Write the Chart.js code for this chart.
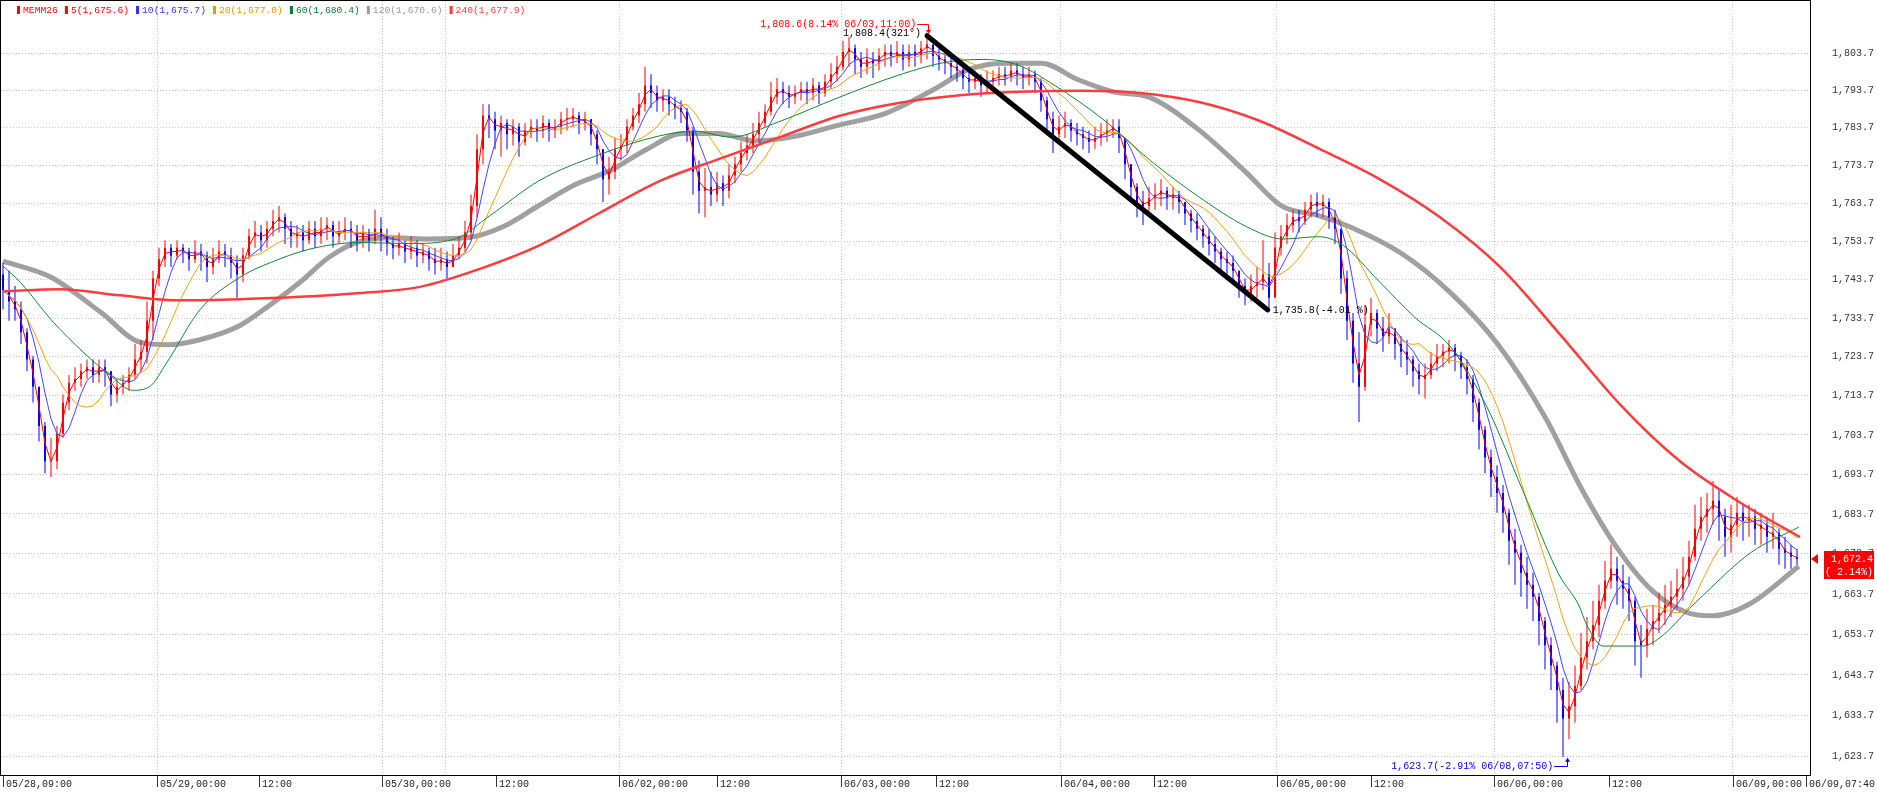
<!DOCTYPE html>
<html><head><meta charset="utf-8">
<script src="https://cdn.jsdelivr.net/npm/chart.js@4/dist/chart.umd.min.js"></script>
<style>html,body{margin:0;padding:0;background:#fff;overflow:hidden}#wrap{width:1877px;height:793px}</style>
</head><body><div id="wrap"><canvas id="c" width="1877" height="793"></canvas></div>
<script>
// ---- data (one bar per slot, index 0..299) ----
const closes=[1741,1738,1736,1730,1723,1716,1706,1697,1697,1704,
1712,1717,1718,1720,1721,1719,1721,1720,1714,1716,
1717,1719,1723,1725,1733,1744,1749,1752,1750,1752,
1751,1749,1751,1750,1747,1749,1751,1750,1748,1745,
1750,1755,1756,1754,1757,1759,1760,1757,1755,1756,
1754,1757,1755,1757,1758,1755,1756,1757,1756,1754,
1756,1754,1757,1755,1753,1752,1753,1751,1752,1750,
1751,1749,1748,1749,1747,1750,1752,1756,1763,1778,
1787,1786,1783,1785,1782,1784,1780,1783,1784,1783,
1785,1783,1784,1786,1786,1787,1785,1786,1782,1778,
1770,1772,1778,1779,1784,1787,1790,1795,1793,1791,
1792,1790,1789,1788,1783,1772,1767,1768,1766,1769,
1767,1771,1774,1777,1779,1782,1785,1788,1792,1794,
1793,1792,1793,1794,1793,1795,1793,1796,1798,1800,
1804,1805,1802,1800,1802,1801,1803,1804,1803,1804,
1802,1804,1803,1805,1806,1803,1802,1801,1800,1799,
1797,1796,1797,1795,1796,1797,1798,1797,1799,1798,
1797,1798,1796,1791,1786,1782,1784,1785,1783,1782,
1781,1780,1781,1782,1783,1784,1781,1774,1768,1764,
1763,1765,1766,1767,1765,1766,1764,1761,1759,1757,
1755,1753,1751,1749,1748,1746,1742,1740,1742,1743,
1745,1739,1752,1755,1758,1760,1759,1762,1764,1763,
1764,1760,1757,1744,1733,1722,1716,1732,1735,1731,
1729,1731,1727,1725,1723,1720,1718,1719,1722,1724,
1725,1726,1724,1721,1718,1712,1705,1698,1693,1689,
1684,1677,1674,1669,1666,1663,1657,1651,1646,1640,
1633,1636,1641,1648,1652,1656,1662,1667,1670,1667,
1665,1662,1652,1651,1655,1657,1659,1661,1663,1665,
1668,1673,1680,1683,1685,1687,1683,1678,1681,1684,
1682,1683,1680,1681,1678,1679,1675,1674,1673,1672.4];
const highs=[1748,1746,1742,1738,1731,1724,1716,1707,1703,1706,
1714,1719,1721,1722,1723,1723,1723,1723,1720,1718,
1719,1721,1727,1728,1738,1746,1752,1754,1753,1754,
1753,1752,1754,1753,1751,1752,1754,1753,1752,1750,
1752,1757,1759,1758,1759,1762,1763,1761,1759,1758,
1758,1759,1759,1760,1760,1759,1759,1760,1759,1758,
1758,1757,1762,1760,1757,1755,1756,1754,1755,1754,
1753,1752,1752,1752,1751,1753,1755,1759,1766,1782,
1790,1790,1788,1787,1786,1786,1785,1785,1786,1786,
1787,1786,1786,1788,1789,1789,1788,1788,1786,1783,
1778,1776,1781,1782,1786,1789,1793,1800,1798,1795,
1794,1794,1792,1791,1789,1784,1775,1773,1772,1772,
1771,1774,1776,1780,1782,1785,1788,1790,1796,1797,
1796,1795,1795,1796,1796,1797,1796,1798,1801,1803,
1807,1808,1806,1804,1805,1804,1805,1806,1806,1807,
1806,1806,1806,1807,1808.6,1806,1805,1804,1803,1802,
1800,1799,1799,1798,1799,1799,1800,1800,1801,1801,
1800,1800,1799,1797,1792,1788,1787,1788,1786,1785,
1784,1783,1784,1785,1786,1786,1786,1781,1774,1769,
1767,1768,1769,1770,1768,1768,1767,1764,1762,1761,
1758,1757,1755,1752,1751,1750,1746,1744,1745,1747,
1754,1748,1756,1758,1761,1762,1762,1764,1766,1766.5,
1766,1765,1762,1757,1746,1735,1730,1737,1739,1736,
1734,1735,1731,1729,1728,1724,1722,1722,1725,1727,
1727,1728,1727,1725,1723,1719,1713,1706,1700,1696,
1691,1685,1680,1676,1673,1669,1664,1658,1653,1647,
1643,1642,1646,1654,1658,1662,1666,1672,1676,1673,
1671,1668,1663,1656,1660,1661,1664,1666,1667,1670,
1673,1677,1686,1688,1689,1692,1690,1685,1686,1688,
1686,1686,1685,1684,1683,1684,1680,1678,1676,1675];
const lows=[1736,1733,1733,1727,1720,1712,1702,1694,1693,1695,
1703,1710,1715,1716,1718,1717,1717,1716,1711,1712,
1714,1715,1718,1720,1722,1728,1742,1747,1747,1749,
1748,1746,1748,1746,1743,1745,1748,1747,1744,1739,
1743,1749,1752,1751,1752,1755,1756,1753,1752,1752,
1751,1753,1752,1753,1754,1752,1753,1754,1752,1751,
1752,1751,1753,1751,1750,1749,1750,1748,1749,1747,
1748,1746,1745,1746,1744,1747,1749,1751,1754,1760,
1774,1781,1778,1776,1778,1779,1776,1779,1781,1780,
1781,1780,1781,1782,1783,1784,1782,1783,1779,1774,
1764,1766,1770,1775,1777,1783,1785,1788,1789,1788,
1788,1787,1786,1785,1780,1766,1761,1760,1763,1764,
1763,1765,1769,1772,1775,1777,1780,1784,1787,1790,
1790,1789,1790,1791,1790,1791,1790,1792,1794,1796,
1799,1800,1798,1797,1798,1797,1799,1800,1800,1801,
1799,1800,1800,1801,1802,1800,1799,1798,1797,1796,
1794,1793,1794,1792,1793,1794,1795,1795,1796,1795,
1794,1795,1793,1788,1783,1777,1780,1781,1780,1779,
1778,1777,1778,1779,1780,1781,1777,1770,1764,1760,
1758,1761,1762,1763,1762,1762,1761,1758,1756,1754,
1752,1750,1748,1746,1745,1743,1739,1737,1738,1739,
1741,1735.8,1740,1750,1753,1756,1756,1758,1760,1760,
1760,1757,1753,1740,1728,1717,1707,1715,1729,1727,
1725,1727,1723,1721,1719,1716,1714,1713,1718,1720,
1721,1722,1720,1718,1714,1707,1700,1694,1688,1684,
1679,1671,1666,1663,1660,1657,1651,1645,1640,1632,
1623.7,1628,1632,1640,1645,1650,1653,1660,1665,1661,
1660,1657,1646,1643,1648,1651,1654,1656,1658,1660,
1662,1666,1672,1677,1679,1681,1677,1673,1674,1678,
1677,1678,1676,1676,1674,1675,1671,1670,1670,1671];
const firstOpen=1745;

// moving averages: [bar index, value]
const ma60Pts=[[0,1747.2],[2.9,1743],[8,1733.3],[13.5,1724.7],[17.9,1718.9],[21.6,1715.1],[24.4,1716],[27.3,1722.2],[32.8,1735.8],[39.5,1744.3],[45.5,1748.7],[51.5,1751.8],[59.5,1753.4],[67.5,1753.1],[75.3,1754.3],[81.3,1760.6],[89.3,1769.6],[99.3,1776.5],[109.3,1781.5],[115.3,1782.8],[121.3,1781.2],[129.3,1785.3],[139.3,1791.8],[149.3,1797.8],[157.3,1801.3],[163.3,1802],[169.3,1800.4],[175.3,1795],[183.3,1786],[191.3,1774.9],[199.3,1765.4],[207.3,1757.5],[213.3,1754.3],[219.3,1754.9],[223.3,1752.7],[229.3,1743.3],[235.3,1733.9],[241.3,1726.2],[247.3,1710.9],[253.3,1689.6],[259.3,1668.6],[262.7,1660.7],[263.9,1656.2],[266.7,1650.8],[273.3,1650.8],[276.1,1652.8],[281.1,1660.1],[283.3,1663.3],[291.3,1674],[299.3,1680.4]];
const ma120Pts=[[0,1748.5],[8,1744.3],[16.3,1735.2],[22.9,1727.4],[27.5,1726.8],[32.8,1728.1],[39.5,1731.8],[44.5,1737.1],[49.5,1743],[54.4,1749.6],[59.5,1753.7],[65.3,1754.6],[71.3,1754.3],[77.3,1754.6],[83.3,1757.5],[89.3,1763.1],[95.3,1768.6],[101.3,1772.4],[107.3,1778],[113.3,1782.2],[119.3,1782.2],[125.3,1780.2],[131.3,1781.2],[139.3,1784.4],[147.2,1787.6],[155.2,1794],[161.1,1799.4],[167.1,1801],[173.1,1801],[179.1,1796.6],[185.1,1793.3],[191.1,1791.8],[199.1,1783.4],[207.1,1772],[213.1,1763],[219.1,1760.5],[225.2,1757],[233.1,1750.5],[241.1,1740.5],[249.1,1727],[257.1,1708],[263.1,1690],[269.1,1675],[275.1,1664.2],[281.1,1658.9],[285.1,1658.3],[291.1,1661.2],[299.3,1670.6]];
const ma240Pts=[[0,1740.6],[9.5,1741.2],[19.5,1739.6],[29.5,1738.3],[39.5,1738.6],[49.5,1739.2],[59.5,1740.2],[69.5,1741.8],[79.5,1746.5],[89.5,1752.7],[99.5,1761.2],[109.5,1769.6],[119.5,1775.5],[129.5,1781.2],[139.5,1786.9],[149.5,1790.4],[159.5,1792.4],[169.5,1793.3],[179.5,1793.6],[189.5,1793],[199.5,1790.5],[209.5,1785.5],[219.5,1778],[229.5,1770],[239.5,1760],[249.5,1747],[259.5,1729.5],[269.5,1711.5],[279.5,1697],[289.5,1686.6],[299.5,1677.9]];

const trendPts=[[154,1808.4],[210.8,1735.8]];
const trendStartText='1,808.4(321°)';
const trendEndText='1,735.8(-4.01 %)';
const maxMark={i:154.2,v:1808.6,text:'1,808.6(8.14% 06/03,11:00)'};
const minMark={i:260.7,v:1623.7,text:'1,623.7(-2.91% 06/08,07:50)'};
const lastPrice=1672.4, lastPctText='( 2.14%)';

const yTickValues=[1623.7,1633.7,1643.7,1653.7,1663.7,1673.7,1683.7,1693.7,1703.7,1713.7,1723.7,1733.7,1743.7,1753.7,1763.7,1773.7,1783.7,1793.7,1803.7];
const xTickPos=[0,25.67,42.67,63.17,73.83,82.17,102.67,119,139.67,155.5,176.33,191.83,212.33,228,248.5,267.67,288.33,300.5];
const xTickLabels=['05/28,09:00','05/29,00:00','12:00','05/30,00:00','','12:00','06/02,00:00','12:00','06/03,00:00','12:00','06/04,00:00','12:00','06/05,00:00','12:00','06/06,00:00','12:00','06/09,00:00','06/09,07:40'];

const legendLabels=['MEMM26','5(1,675.6)','10(1,675.7)','20(1,677.0)','60(1,680.4)','120(1,670.6)','240(1,677.9)'];
const legendColors=['#ff0000','#ff0000','#3333ff','#e69500','#0b7a2b','#9a9a9a','#ff3c3c'];

// ---- build datasets ----
const UP='#ff0000', DOWN='#0000ff';
const opens=closes.map((c,i)=>i===0?firstOpen:closes[i-1]);
const barColors=closes.map((c,i)=>c>=opens[i]?UP:DOWN);
const wickData=closes.map((c,i)=>({x:i,y:[lows[i],highs[i]]}));
const bodyData=closes.map((c,i)=>({x:i,y:[opens[i],c]}));
function sma(arr,n){return arr.map((_,i)=>{const s=Math.max(0,i-n+1);let t=0;for(let k=s;k<=i;k++)t+=arr[k];return {x:i,y:t/(i-s+1)};});}
const pts=a=>a.map(p=>({x:p[0],y:p[1]}));
const MONO='"Liberation Mono", "DejaVu Sans Mono", monospace';
const fmt=v=>{const s=v.toFixed(1);const [a,b]=s.split('.');return a.replace(/\B(?=(\d{3})+(?!\d))/g,',')+'.'+b;};

const overlay={id:'overlay',afterDraw(chart){
  const {ctx,chartArea:a,scales:{x,y}}=chart;
  ctx.save();
  ctx.strokeStyle='#000';ctx.lineWidth=1;
  ctx.strokeRect(a.left-0.5,a.top-0.5,a.right-a.left+1,a.bottom-a.top+1);
  ctx.beginPath();
  xTickPos.forEach((p,i)=>{if(!xTickLabels[i])return;const px=Math.round(x.getPixelForValue(p))+0.5;ctx.moveTo(px,a.bottom+1);ctx.lineTo(px,a.bottom+12);});
  ctx.strokeStyle='#333';ctx.stroke();
  ctx.textBaseline='middle';
  ctx.font='9.7px '+MONO;
  let lx=17;
  legendLabels.forEach((t,i)=>{ctx.fillStyle=legendColors[i];ctx.fillRect(lx,6,3,8);lx+=6;ctx.fillText(t,lx,10.5);lx+=ctx.measureText(t).width+7;});
  ctx.font='10px '+MONO;
  let px=x.getPixelForValue(maxMark.i), py=y.getPixelForValue(maxMark.v);
  ctx.fillStyle='#ff0000';ctx.strokeStyle='#ff0000';ctx.textAlign='right';
  const ty=Math.round(py-11)+0.5;
  ctx.fillText(maxMark.text,px-12,ty);
  ctx.beginPath();ctx.moveTo(px-11,ty);ctx.lineTo(Math.round(px)+0.5,ty);ctx.lineTo(Math.round(px)+0.5,py-4);ctx.stroke();
  ctx.beginPath();ctx.moveTo(Math.round(px)-2,py-5);ctx.lineTo(Math.round(px)+3,py-5);ctx.lineTo(Math.round(px)+0.5,py-1);ctx.fill();
  px=x.getPixelForValue(minMark.i);py=y.getPixelForValue(minMark.v);
  ctx.fillStyle='#0000ff';ctx.strokeStyle='#0000ff';
  const by=Math.round(py+9)+0.5;
  ctx.fillText(minMark.text,px-14,by);
  ctx.beginPath();ctx.moveTo(px-13,by);ctx.lineTo(Math.round(px)+0.5,by);ctx.lineTo(Math.round(px)+0.5,py+4);ctx.stroke();
  ctx.beginPath();ctx.moveTo(Math.round(px)-2,py+5);ctx.lineTo(Math.round(px)+3,py+5);ctx.lineTo(Math.round(px)+0.5,py+1);ctx.fill();
  ctx.fillStyle='#000';
  const sx=x.getPixelForValue(trendPts[0][0]), sy=y.getPixelForValue(trendPts[0][1]);
  ctx.fillText(trendStartText,sx-6,sy-2);
  const ex=x.getPixelForValue(trendPts[1][0]), ey=y.getPixelForValue(trendPts[1][1]);
  ctx.textAlign='left';ctx.fillText(trendEndText,ex+5,ey);
  const lp=y.getPixelForValue(lastPrice);
  ctx.fillStyle='#ff0000';
  ctx.beginPath();ctx.moveTo(a.right+1,lp);ctx.lineTo(a.right+8,lp-5);ctx.lineTo(a.right+8,lp+5);ctx.closePath();ctx.fill();
  ctx.fillRect(1824,Math.round(lp-8),50,28);
  ctx.fillStyle='#fff';ctx.textAlign='right';
  ctx.fillText(fmt(lastPrice),1873,lp+0.5);
  ctx.fillText(lastPctText,1873,lp+13.5);
  ctx.restore();
}};

Chart.defaults.font.family=MONO;
new Chart(document.getElementById('c'),{
  type:'bar',
  data:{datasets:[
    {type:'line',label:'120',data:pts(ma120Pts),borderColor:'#a0a0a0',borderWidth:5,pointRadius:0,cubicInterpolationMode:'monotone',order:20},
    {type:'bar',label:'wick',data:wickData,backgroundColor:barColors,barThickness:1,grouped:false,inflateAmount:0,order:19},
    {type:'bar',label:'body',data:bodyData,backgroundColor:barColors,barThickness:2,grouped:false,inflateAmount:0,minBarLength:1,order:18},
    {type:'line',label:'5',data:sma(closes,2),borderColor:'#ff0000',borderWidth:1,pointRadius:0,order:17},
    {type:'line',label:'10',data:sma(closes,5),borderColor:'#4444ff',borderWidth:1,pointRadius:0,order:16},
    {type:'line',label:'20',data:sma(closes,10),borderColor:'#f0a010',borderWidth:1,pointRadius:0,order:15},
    {type:'line',label:'60',data:pts(ma60Pts),borderColor:'#118833',borderWidth:1,pointRadius:0,cubicInterpolationMode:'monotone',order:14},
    {type:'line',label:'240',data:pts(ma240Pts),borderColor:'#ff3c3c',borderWidth:2.5,pointRadius:0,cubicInterpolationMode:'monotone',order:13},
    {type:'line',label:'trend',data:pts(trendPts),borderColor:'#000',borderWidth:5,pointRadius:0,borderCapStyle:'round',order:0}
  ]},
  options:{
    responsive:false,animation:false,devicePixelRatio:1,
    layout:{padding:{left:1,top:1,right:0,bottom:0}},
    plugins:{legend:{display:false},tooltip:{enabled:false}},
    scales:{
      x:{type:'linear',min:-1/3,max:-1/3+1809/6,offset:false,
        afterBuildTicks:s=>{s.ticks=xTickPos.map(v=>({value:v}));},
        afterFit:s=>{s.height=18;s.paddingLeft=0;s.paddingRight=0;},
        ticks:{autoSkip:false,maxRotation:0,minRotation:0,align:'start',labelOffset:3,padding:3,color:'#222',font:{size:10,family:MONO},
          callback:(v,i)=>xTickLabels[i]},
        grid:{offset:false,drawTicks:false,lineWidth:1,color:c=>{const l=xTickLabels[c.index];return (l===''||(l&&l.endsWith('00:00')))?'#c4c4c4':'rgba(0,0,0,0)';}},
        border:{display:false,dash:[1,2]}
      },
      y:{type:'logarithmic',position:'right',min:1619.3,max:1817.8,
        afterBuildTicks:s=>{s.ticks=yTickValues.map(v=>({value:v}));},
        afterFit:s=>{s.width=67;s.paddingTop=0;s.paddingBottom=0;},
        ticks:{autoSkip:false,padding:22,color:'#333',font:{size:10,family:MONO},callback:v=>fmt(v)},
        grid:{drawTicks:false,lineWidth:1,color:'#c4c4c4'},
        border:{display:false,dash:[1,2]}
      }
    }
  },
  plugins:[overlay]
});
</script></body></html>
